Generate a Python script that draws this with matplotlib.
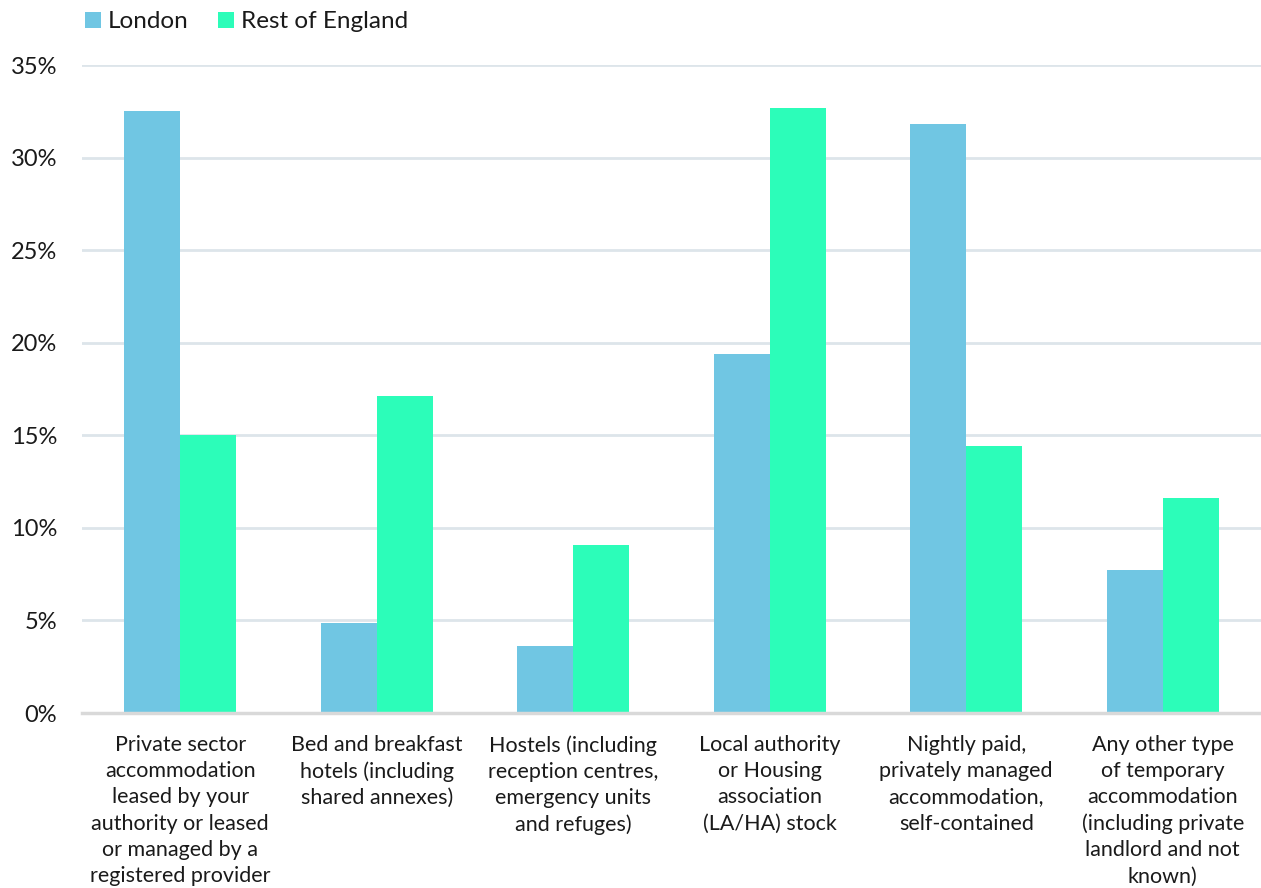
import matplotlib
matplotlib.use("Agg")
import matplotlib.pyplot as plt
import numpy as np
from matplotlib.ticker import FuncFormatter

categories = [
    "Private sector\naccommodation\nleased by your\nauthority or leased\nor managed by a\nregistered provider",
    "Bed and breakfast\nhotels (including\nshared annexes)",
    "Hostels (including\nreception centres,\nemergency units\nand refuges)",
    "Local authority\nor Housing\nassociation\n(LA/HA) stock",
    "Nightly paid,\nprivately managed\naccommodation,\nself-contained",
    "Any other type\nof temporary\naccommodation\n(including private\nlandlord and not\nknown)",
]
london = [32.5, 4.85, 3.6, 19.4, 31.8, 7.7]
rest_of_england = [15.0, 17.1, 9.1, 32.7, 14.4, 11.6]
series_names = ["London", "Rest of England"]
colors = ["#70C6E3", "#2CFDB9"]

plt.rcParams['font.family'] = ['Lato', 'DejaVu Sans']
text_color = "#1a1a1a"

fig = plt.figure(figsize=(12.61, 8.88), dpi=100)
ax = fig.add_axes([0.065, 0.197, 0.935, 0.7298])

x = np.arange(len(categories))
w = 0.286
ax.bar(x - w/2, london, width=w, color=colors[0], label=series_names[0], zorder=3)
ax.bar(x + w/2, rest_of_england, width=w, color=colors[1], label=series_names[1], zorder=3)

ax.set_xlim(-0.5, len(categories) - 0.5)
ax.set_ylim(0, 35)
ax.set_yticks(np.arange(0, 36, 5))
ax.yaxis.set_major_formatter(FuncFormatter(lambda v, p: f"{int(v)}%"))
ax.grid(axis='y', color="#DDE5EA", linewidth=2, zorder=0)
ax.set_axisbelow(True)
for s in ["top", "right", "left"]:
    ax.spines[s].set_visible(False)
ax.spines["bottom"].set_color("#D9D9D9")
ax.spines["bottom"].set_linewidth(2.5)
ax.spines["bottom"].set_zorder(4)

ax.tick_params(axis='y', length=0, pad=18, labelsize=17, labelcolor=text_color)
ax.tick_params(axis='x', length=0, pad=16, labelsize=15.5, labelcolor=text_color)
ax.set_xticks(x)
ax.set_xticklabels(categories, linespacing=1.38, va='top', ha='center')

leg = fig.legend(loc='upper left', bbox_to_anchor=(0.05, 1.012), ncol=2,
                 frameon=False, fontsize=17.5, handlelength=0.65, handleheight=0.65,
                 handletextpad=0.3, columnspacing=1.2, labelcolor=text_color)

fig.savefig("out.png", dpi=100)
